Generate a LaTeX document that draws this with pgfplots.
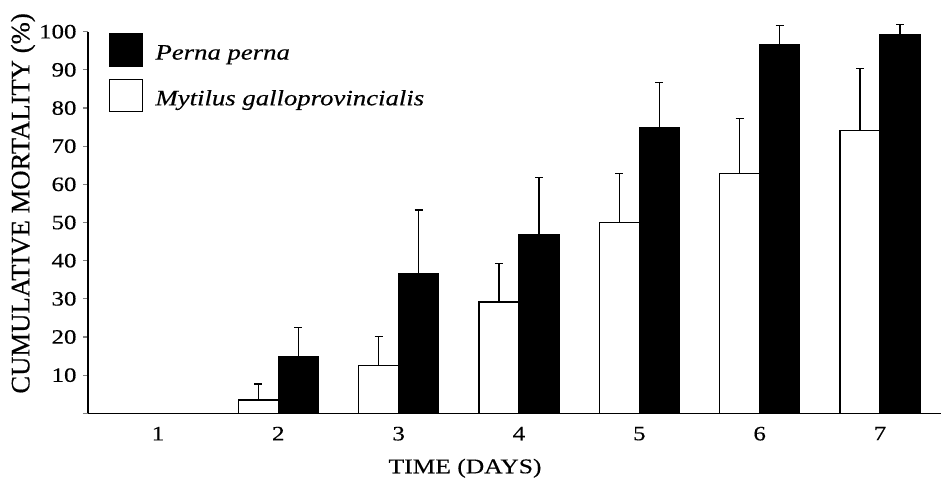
\documentclass[border=0pt]{standalone}
\usepackage{fontspec}
\setmainfont[FakeStretch=1.22,FakeBold=0.4]{Liberation Serif}
\newfontfamily\ylabfont[FakeBold=0.4]{Liberation Serif}
\usepackage{pgfplots}
\pgfplotsset{compat=1.18}
\begin{document}
\begin{tikzpicture}
\useasboundingbox (-88bp,-68.7bp) rectangle (853bp,413.3bp);
\begin{axis}[
  at={(0,0)}, anchor=south west,
  scale only axis, width=853bp, height=381.6bp,
  xmin=0.4183, xmax=7.507, ymin=0, ymax=100,
  axis lines=left, axis line style={-, line width=1.2bp},
  ybar=0pt, bar width=40bp,
  xtick={1,2,3,4,5,6,7}, xtick style={draw=none},
  ytick={0,10,20,30,40,50,60,70,80,90,100},
  yticklabels={,10,20,30,40,50,60,70,80,90,100},
  tick align=outside, major tick length=5bp, ytick style={line width=1.2bp},
  tick label style={font=\fontsize{20.5}{24}\selectfont},
  xticklabel style={yshift=-5bp},
  yticklabel style={xshift=-3bp},
  /pgf/number format/assume math mode=true,
  clip=false,
  xlabel={TIME (DAYS)},
  xlabel style={at={(axis description cs:0.442,-0.144)}, anchor=center, font=\fontsize{21}{24}\selectfont},
  ylabel={CUMULATIVE MORTALITY (\%)},
  ylabel style={at={(axis description cs:-0.0762,0.55)}, anchor=center, font=\ylabfont\fontsize{26.8}{30}\selectfont},
  legend style={draw=none, fill=none, at={(axis description cs:0,1)}, anchor=north west,
    xshift=21bp, yshift=-1.6bp, inner sep=0pt, row sep=12bp,
    font=\itshape\fontsize{22}{24}\selectfont,
    nodes={inner sep=0pt},
    /tikz/every odd column/.append style={column sep=12bp}},
  legend cell align=left,
  reverse legend,
  error bars/y dir=plus, error bars/y explicit,
  error bars/error bar style={line width=1.3bp, black},
  error bars/error mark options={rotate=90, line width=1.3bp, mark size=4bp, black},
]
\addplot[draw=black, fill=white, line width=1.3bp,
  legend image code/.code={\draw[draw=black, fill=white, line width=1.3bp] (0bp,-13bp) rectangle (33bp,19bp);}]
  coordinates {
  (2,3.5) +- (0,4.2)
  (3,12.5) +- (0,7.6)
  (4,29.2) +- (0,10.1)
  (5,50.0) +- (0,12.9)
  (6,62.8) +- (0,14.5)
  (7,74.2) +- (0,16.2)
};
\addlegendentry{Mytilus galloprovincialis}
\addplot[draw=black, fill=black, line width=1.3bp,
  legend image code/.code={\draw[draw=black, fill=black, line width=1.3bp] (0bp,-13bp) rectangle (33bp,19bp);}]
  coordinates {
  (2,14.8) +- (0,7.6)
  (3,36.5) +- (0,16.8)
  (4,46.9) +- (0,14.9)
  (5,74.8) +- (0,11.9)
  (6,96.5) +- (0,5.2)
  (7,99.1) +- (0,2.8)
};
\addlegendentry{Perna perna}
\end{axis}
\end{tikzpicture}
\end{document}
